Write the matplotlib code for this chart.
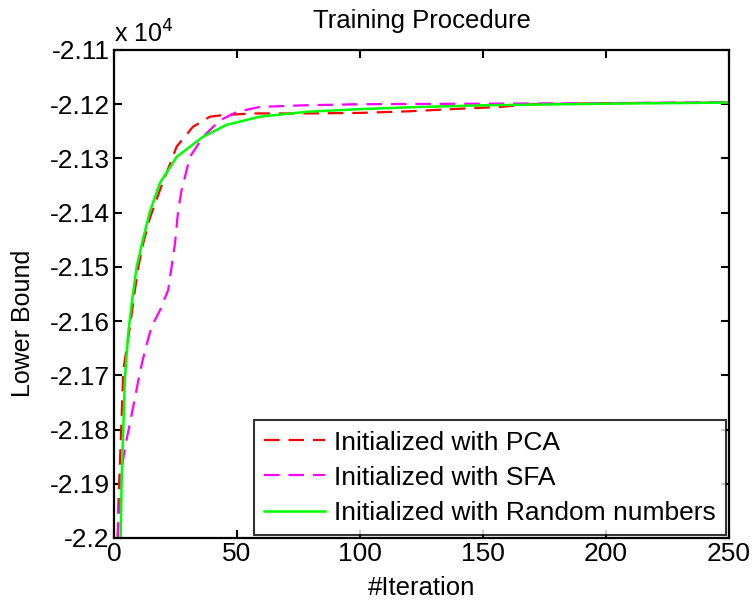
import matplotlib
matplotlib.use('agg')
import matplotlib.pyplot as plt

plt.rcParams['font.family'] = ['Liberation Sans', 'DejaVu Sans']

# values, y in units of 10^4
iter_pca = [1.5, 1.8, 3.8, 6.5, 8.5, 9.9, 11.9, 14.6, 18.7, 25.5, 32, 39, 44.4,
            56.6, 78, 100, 120, 142, 157, 170, 200, 250]
lb_pca = [-2.2, -2.1936, -2.169, -2.161, -2.1543, -2.150, -2.1456, -2.141,
          -2.1358, -2.1278, -2.1242, -2.1223, -2.122, -2.1217, -2.1217, -2.1216,
          -2.1213, -2.1208, -2.1205, -2.1200, -2.1198, -2.1197]

iter_sfa = [1.5, 1.8, 3.1, 4.5, 6.5, 7.8, 10.6, 12.6, 15.3, 18.7, 22, 23.4, 24.8,
            26.1, 27.5, 30.9, 36.2, 43, 50, 59.3, 77, 100, 150, 200, 250]
lb_sfa = [-2.2, -2.1973, -2.1875, -2.1832, -2.1788, -2.1758, -2.1693, -2.1654,
          -2.161, -2.158, -2.1543, -2.150, -2.1456, -2.1395, -2.1358, -2.1297,
          -2.126, -2.123, -2.1214, -2.1205, -2.1202, -2.1200, -2.1199, -2.1198,
          -2.1196]

iter_rand = [2.7, 3.1, 3.8, 4.5, 5.8, 7.2, 9.2, 11.9, 14.6, 18.7, 25.5, 36.2,
             45.8, 59.3, 78.3, 100, 125, 150, 200, 250]
lb_rand = [-2.2, -2.1893, -2.1795, -2.170, -2.1622, -2.1567, -2.150, -2.1447,
           -2.1398, -2.1345, -2.1297, -2.126, -2.1238, -2.1223, -2.1214, -2.1209,
           -2.1205, -2.1202, -2.1199, -2.1197]

labels = ['Initialized with PCA', 'Initialized with SFA',
          'Initialized with Random numbers']
yticks = [-2.2, -2.19, -2.18, -2.17, -2.16, -2.15, -2.14, -2.13, -2.12, -2.11]
ytick_labels = ['-2.2', '-2.19', '-2.18', '-2.17', '-2.16', '-2.15', '-2.14',
                '-2.13', '-2.12', '-2.11']

fig = plt.figure(figsize=(7.56, 6.01), dpi=100)
ax = fig.add_axes([114 / 756, 1 - 538 / 601, 615 / 756, 488 / 601])

dash = (0, (7, 4))
ax.plot(iter_pca, lb_pca, color=(1, 0, 0), lw=1.6, ls=dash, label=labels[0])
ax.plot(iter_sfa, lb_sfa, color=(1, 0, 1), lw=1.6, ls=dash, label=labels[1])
ax.plot(iter_rand, lb_rand, color=(0, 1, 0), lw=1.8, label=labels[2])

ax.set_xlim(0, 250)
ax.set_ylim(-2.2, -2.11)
ax.set_xticks([0, 50, 100, 150, 200, 250])
ax.set_yticks(yticks)
ax.set_yticklabels(ytick_labels)
ax.tick_params(direction='in', length=6, width=1.5, labelsize=19,
               top=True, right=True, pad=3)
for s in ax.spines.values():
    s.set_linewidth(1.6)

ax.set_title('Training Procedure', fontsize=18.5, pad=16)
ax.set_xlabel('#Iteration', fontsize=18.5, labelpad=7)
ax.set_ylabel('Lower Bound', fontsize=18)
ax.yaxis.set_label_coords(-0.128, 0.44)
ax.text(0, 1.005, r'x 10$^4$', transform=ax.transAxes, fontsize=18,
        ha='left', va='bottom')

leg = ax.legend(loc='lower right', bbox_to_anchor=(1.0, 0.0), fontsize=19,
                frameon=True, fancybox=False, handlelength=2.3,
                handletextpad=0.35, borderpad=0.4, labelspacing=0.42,
                borderaxespad=0.1)
leg.get_frame().set_edgecolor('black')
leg.get_frame().set_linewidth(1.5)

fig.savefig('out.png', dpi=100)
